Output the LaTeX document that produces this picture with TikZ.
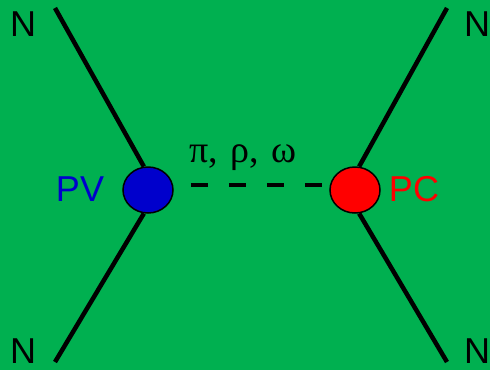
\documentclass[tikz,border=0pt]{standalone}
\usepackage{fontspec}
\setmainfont{Liberation Sans}
\newfontfamily\grk{Liberation Serif}
\usetikzlibrary{shapes.geometric}
\definecolor{bggreen}{RGB}{0,176,80}
\definecolor{pvblue}{RGB}{0,0,204}

\begin{document}
\begin{tikzpicture}[
  x=1pt, y=-1pt,
  font=\fontsize{36}{42}\selectfont,
  vtx/.style={ellipse,draw,line width=1.5pt,minimum width=50pt,minimum height=46pt,inner sep=0},
  leg/.style={line width=4.5pt},
  meson/.style={line width=4.5pt,dash pattern=on 17pt off 21pt},
]
  \useasboundingbox (0,0) rectangle (490,370);
  \fill[bggreen] (0,0) rectangle (490,370);

  \node[vtx, fill=pvblue] (pv) at (148,190) {};
  \node[vtx, fill=red] (pc) at (355,190) {};
  \node[text=pvblue] (pvlbl) at (80,189) {PV};
  \node[text=red] (pclbl) at (414,189) {PC};

  \foreach \name/\x/\y in {ntl/23/24, ntr/477/24, nbl/23/351, nbr/477/351}
    \node[inner sep=0] (\name) at (\x, \y) {N};

  \foreach \name/\x/\y in {etl/55/8, ebl/55/362, etr/447/8, ebr/447/362}
    \coordinate (\name) at (\x, \y);

  \draw[leg] (etl) -- (pv.100);
  \draw[leg] (ebl) -- (pv.260);
  \draw[leg] (etr) -- (pc.80);
  \draw[leg] (ebr) -- (pc.280);

  \draw[meson] ([xshift=17pt,yshift=5pt]pv.east) -- ([xshift=-7pt,yshift=5pt]pc.west);
  \node[anchor=base, font=\grk\fontsize{38}{44}\selectfont] (mesons) at (243,162) {π,\,\,ρ,\,\,ω};
\end{tikzpicture}
\end{document}
